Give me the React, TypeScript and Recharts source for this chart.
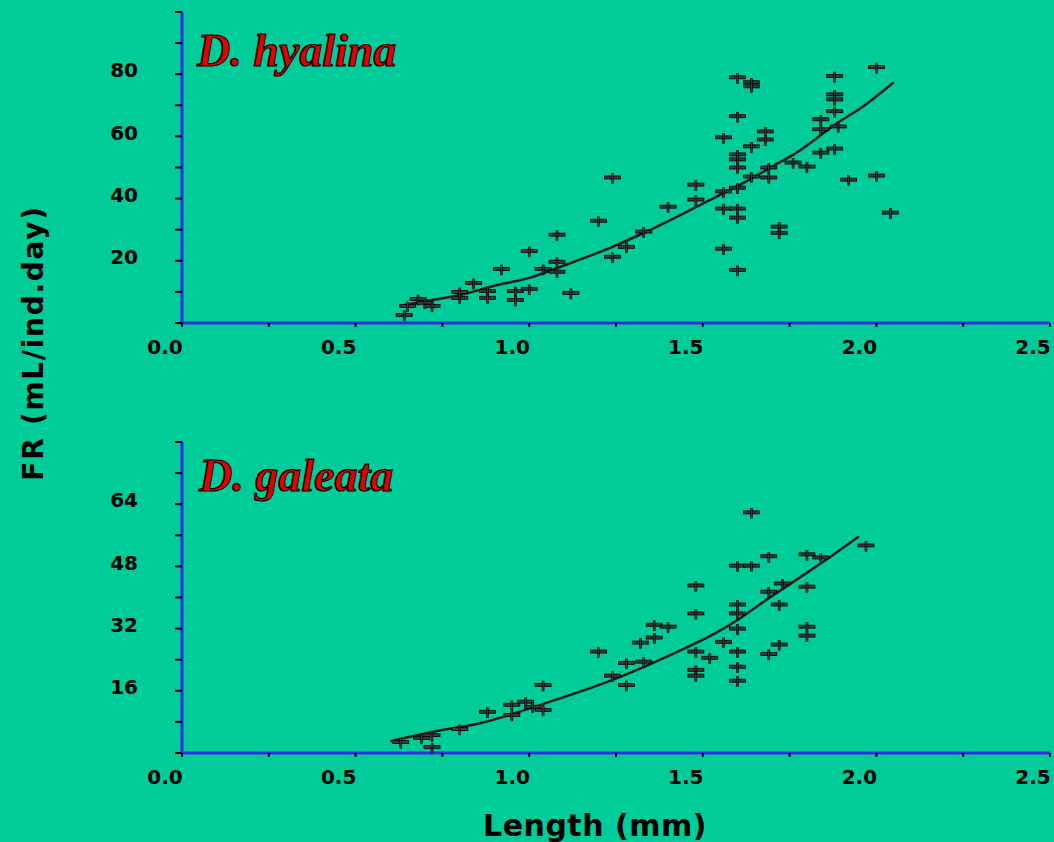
import React from 'react';
import {
  ComposedChart, Scatter, Line, XAxis, YAxis,
} from 'recharts';

// D. hyalina: measured points
const hyalinaLength = [
  0.64, 0.65, 0.68, 0.70, 0.72, 0.80, 0.80, 0.84, 0.88, 0.88, 0.92, 0.96, 0.96, 1.00, 1.00,
  1.04, 1.08, 1.08, 1.08, 1.12, 1.20, 1.24, 1.24, 1.28, 1.33, 1.40, 1.48, 1.48, 1.56, 1.56,
  1.56, 1.56, 1.60, 1.60, 1.60, 1.60, 1.60, 1.60, 1.60, 1.60, 1.60, 1.64, 1.64, 1.64, 1.64,
  1.68, 1.68, 1.69, 1.69, 1.72, 1.72, 1.76, 1.80, 1.84, 1.84, 1.84, 1.88, 1.88, 1.88, 1.88,
  1.89, 1.88, 1.92, 2.00, 2.00, 2.04,
];
const hyalinaFR = [
  2.6, 5.5, 7.7, 6.5, 5.5, 8.1, 10.0, 12.9, 10.3, 8.1, 17.4, 10.3, 7.4, 11.0, 23.2,
  17.4, 28.4, 19.7, 16.5, 9.7, 32.9, 46.8, 21.3, 24.5, 29.4, 37.4, 39.7, 44.5, 42.3, 36.8,
  23.9, 59.7, 43.5, 36.8, 33.9, 17.1, 50.0, 52.6, 54.2, 66.5, 79.0, 77.4, 76.1, 56.8, 47.1,
  61.6, 59.0, 50.0, 46.8, 31.0, 29.0, 51.6, 50.3, 65.5, 62.3, 54.8, 79.4, 73.5, 71.9, 68.1,
  63.2, 56.1, 46.1, 82.3, 47.4, 35.5,
];
// D. hyalina: fitted curve
const hyalinaFitLength = [0.64, 0.72, 0.80, 0.90, 1.00, 1.10, 1.24, 1.34, 1.50, 1.62, 1.70, 1.77, 1.89, 1.95, 2.05];
const hyalinaFitFR = [5.8, 7.4, 9.0, 12.0, 14.5, 18.5, 24.5, 29.5, 38.4, 45.2, 50.3, 54.8, 64.5, 68.7, 77.4];

// D. galeata: measured points
const galeataLength = [
  0.63, 0.69, 0.72, 0.72, 0.80, 0.88, 0.95, 0.95, 0.99, 1.01, 1.04, 1.04, 1.20, 1.24, 1.28,
  1.28, 1.33, 1.32, 1.36, 1.36, 1.40, 1.48, 1.48, 1.48, 1.48, 1.48, 1.52, 1.56, 1.60, 1.60,
  1.60, 1.60, 1.60, 1.60, 1.60, 1.64, 1.64, 1.69, 1.69, 1.69, 1.72, 1.72, 1.73, 1.80, 1.80,
  1.80, 1.80, 1.84, 1.97,
];
const galeataFR = [
  2.8, 3.9, 4.6, 1.5, 6.2, 10.6, 12.4, 9.8, 13.2, 11.9, 11.1, 17.5, 26.1, 19.9, 23.2,
  17.5, 23.5, 28.4, 33.0, 29.7, 32.5, 43.1, 35.9, 26.1, 21.4, 19.9, 24.5, 28.6, 48.2, 38.2,
  35.9, 32.0, 26.1, 22.2, 18.6, 61.9, 48.2, 50.6, 41.5, 25.5, 38.2, 27.9, 43.6, 51.1, 42.8,
  32.5, 30.2, 50.3, 53.4,
];
// D. galeata: fitted curve
const galeataFitLength = [0.60, 0.72, 0.86, 1.05, 1.24, 1.44, 1.53, 1.61, 1.67, 1.77, 1.87, 1.95];
const galeataFitFR = [3.0, 5.4, 7.7, 12.9, 18.8, 26.6, 30.5, 34.8, 38.6, 44.6, 50.6, 55.7];

const lengthTicks = [0, 0.25, 0.5, 0.75, 1.0, 1.25, 1.5, 1.75, 2.0, 2.25, 2.5];
const hyalinaTicks = [0, 10, 20, 30, 40, 50, 60, 70, 80, 90, 100];
const hyalinaLabels = [20, 40, 60, 80];
const galeataTicks = [0, 8, 16, 24, 32, 40, 48, 56, 64, 72, 80];
const galeataLabels = [16, 32, 48, 64];

const BG = '#00CC99';
const AXIS_BLUE = '#2f2fe8';
const FONT = '"DejaVu Sans", sans-serif';

const zip = (xs: number[], ys: number[]) => xs.map((x, i) => ({ x, y: ys[i] }));

const Cross = (props: any) => {
  const { cx, cy } = props;
  if (cx == null || cy == null) return <g />;
  return (
    <g>
      <rect x={cx - 8} y={cy - 1.5} width={16} height={3} fill="#3a3a3a" stroke="#000" strokeWidth={0.8} />
      <rect x={cx - 1} y={cy - 4} width={2} height={10} fill="#3a3a3a" stroke="#000" strokeWidth={0.6} />
    </g>
  );
};

const XTick = (props: any) => {
  const { x, y, payload } = props;
  const v = payload.value;
  if (Math.abs(v * 2 - Math.round(v * 2)) > 1e-6) return <g />;
  return (
    <text x={x - 17} y={y} dy="0.72em" textAnchor="middle" fontFamily={FONT} fontWeight="bold" fontSize={20} fill="#000">
      {v.toFixed(1)}
    </text>
  );
};

const makeYTick = (labels: number[]) => (props: any) => {
  const { x, y, payload } = props;
  if (!labels.includes(payload.value)) return <g />;
  return (
    <text x={x} y={y - 4} dy="0.36em" textAnchor="end" fontFamily={FONT} fontWeight="bold" fontSize={20} fill="#000">
      {payload.value}
    </text>
  );
};

type PanelProps = {
  points: { x: number; y: number }[];
  fit: { x: number; y: number }[];
  yMax: number;
  yTicks: number[];
  yLabels: number[];
};

function Panel({ points, fit, yMax, yTicks, yLabels }: PanelProps) {
  return (
    <ComposedChart width={1054} height={380} margin={{ top: 12, right: 4, left: 122, bottom: 17 }}>
      <XAxis
        dataKey="x" type="number" domain={[0, 2.5]} ticks={lengthTicks} interval={0}
        height={40} tickSize={4} tickMargin={13}
        axisLine={{ stroke: AXIS_BLUE, strokeWidth: 3 }}
        tickLine={{ stroke: '#000', strokeWidth: 2 }}
        tick={XTick}
        allowDataOverflow
      />
      <XAxis
        xAxisId="top" orientation="top" type="number" domain={[0, 2.5]} height={0}
        tick={false} tickLine={false}
        axisLine={{ stroke: AXIS_BLUE, strokeWidth: 3 }}
      />
      <YAxis
        dataKey="y" type="number" domain={[0, yMax]} ticks={yTicks} interval={0}
        width={60} tickSize={7} tickMargin={37}
        axisLine={{ stroke: AXIS_BLUE, strokeWidth: 3 }}
        tickLine={{ stroke: '#000', strokeWidth: 2 }}
        tick={makeYTick(yLabels)}
        allowDataOverflow
      />
      <YAxis
        yAxisId="right" orientation="right" type="number" domain={[0, yMax]} width={0}
        tick={false} tickLine={false}
        axisLine={{ stroke: AXIS_BLUE, strokeWidth: 2 }}
      />
      <Line
        data={fit} dataKey="y" type="monotone" dot={false}
        stroke="#1a1a1a" strokeWidth={2.5} isAnimationActive={false}
      />
      <Scatter data={points} shape={Cross} isAnimationActive={false} />
    </ComposedChart>
  );
}

const titleStyle: React.CSSProperties = {
  position: 'absolute',
  fontFamily: '"Liberation Serif", "DejaVu Serif", serif',
  fontStyle: 'italic',
  fontWeight: 'bold',
  fontSize: 46,
  color: '#e00000',
  WebkitTextStroke: '1.2px #000',
  lineHeight: 1,
  whiteSpace: 'nowrap',
};

export default function App() {
  return (
    <div style={{ position: 'absolute', left: 0, top: 0, width: 1054, height: 842, background: BG, overflow: 'hidden' }}>
      <div style={{ position: 'absolute', left: 0, top: 0 }}>
        <Panel points={zip(hyalinaLength, hyalinaFR)} fit={zip(hyalinaFitLength, hyalinaFitFR)}
          yMax={100} yTicks={hyalinaTicks} yLabels={hyalinaLabels} />
      </div>
      <div style={{ position: 'absolute', left: 0, top: 430 }}>
        <Panel points={zip(galeataLength, galeataFR)} fit={zip(galeataFitLength, galeataFitFR)}
          yMax={80} yTicks={galeataTicks} yLabels={galeataLabels} />
      </div>
      <div style={{ ...titleStyle, left: 197, top: 28 }}>D. hyalina</div>
      <div style={{ ...titleStyle, left: 199, top: 453 }}>D. galeata</div>
      <div style={{
        position: 'absolute', left: 33, top: 343, transform: 'translate(-50%, -50%) rotate(-90deg)',
        fontFamily: FONT, fontWeight: 'bold', fontSize: 28, whiteSpace: 'nowrap', color: '#000',
        letterSpacing: 1.7,
      }}>
        FR (mL/ind.day)
      </div>
      <div style={{
        position: 'absolute', left: 595, top: 825, transform: 'translate(-50%, -50%)',
        fontFamily: FONT, fontWeight: 'bold', fontSize: 30, whiteSpace: 'nowrap', color: '#000',
        letterSpacing: 0.5,
      }}>
        Length (mm)
      </div>
    </div>
  );
}
